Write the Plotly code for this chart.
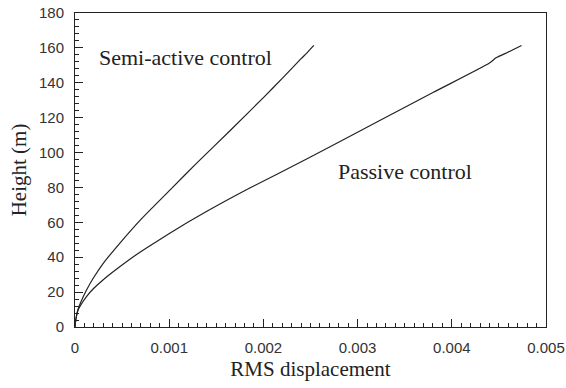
import plotly.graph_objects as go

# Semi-active control
semi_x = [0, 0.000008, 0.00003, 0.00006, 0.000124, 0.0002, 0.0003, 0.000477, 0.0007, 0.00101, 0.0013,
          0.001653, 0.002, 0.0022, 0.0024, 0.00246, 0.002535]
semi_h = [0, 4, 9.8, 14.1, 21.4, 28.5, 36.5, 48.1, 61.7, 78.6, 94.4, 112.9, 131.5, 142.5, 153.8, 157, 161.4]

# Passive control
pas_x = [0, 0.000008, 0.00003, 0.00006, 0.000124, 0.0002, 0.0003, 0.00045, 0.00065, 0.0008, 0.001006,
         0.0014, 0.00185, 0.0025, 0.00323, 0.0038, 0.0044, 0.00447, 0.0046, 0.00474]
pas_h = [0, 4, 9.3, 12.5, 17.6, 22.2, 27.1, 33.5, 41.4, 46.7, 53.8, 66.3, 79.5, 97.4, 118.2, 134.4,
         151.3, 154.3, 157.6, 161.4]

x_ticks = [0, 0.001, 0.002, 0.003, 0.004, 0.005]
x_labels = ["0", "0.001", "0.002", "0.003", "0.004", "0.005"]

line_style = dict(color="#222", width=1.2, shape="spline", smoothing=0.6)

fig = go.Figure()
fig.add_trace(go.Scatter(x=semi_x, y=semi_h, mode="lines", line=line_style,
                         name="Semi-active control", showlegend=False))
fig.add_trace(go.Scatter(x=pas_x, y=pas_h, mode="lines", line=line_style,
                         name="Passive control", showlegend=False))

ann_font = dict(family="Liberation Serif", size=22, color="#222")
fig.add_annotation(x=0.001176, y=154.5, text="Semi-active control", showarrow=False, font=ann_font)
fig.add_annotation(x=0.003506, y=89.4, text="Passive control", showarrow=False, font=ann_font)

tick_font = dict(family="Liberation Sans", size=15, color="#333")
title_font = dict(family="Liberation Serif", size=21, color="#222")

fig.update_layout(
    width=566, height=388,
    margin=dict(l=75, r=20, t=13, b=61, autoexpand=False),
    paper_bgcolor="white", plot_bgcolor="white",
    xaxis=dict(range=[0, 0.005], tickvals=x_ticks, ticktext=x_labels,
               ticks="inside", ticklen=8, tickwidth=1, tickcolor="#222",
               minor=dict(dtick=0.0001, ticks="inside", ticklen=4, tickcolor="#222"),
               showline=True, linecolor="#222", linewidth=1, mirror=True,
               showgrid=False, zeroline=False, ticklabelstandoff=7,
               ticklabeloverflow="allow", automargin=False,
               tickfont=tick_font,
               title=dict(text="RMS displacement", font=title_font, standoff=6)),
    yaxis=dict(range=[0, 180], dtick=20,
               ticks="inside", ticklen=8, tickwidth=1, tickcolor="#222",
               minor=dict(dtick=4, ticks="inside", ticklen=4, tickcolor="#222"),
               showline=True, linecolor="#222", linewidth=1, mirror=True,
               showgrid=False, zeroline=False, ticklabelstandoff=7,
               ticklabeloverflow="allow", automargin=False,
               tickfont=tick_font,
               title=dict(text="Height (m)", font=title_font, standoff=6)),
)

fig.write_html("out.html")
